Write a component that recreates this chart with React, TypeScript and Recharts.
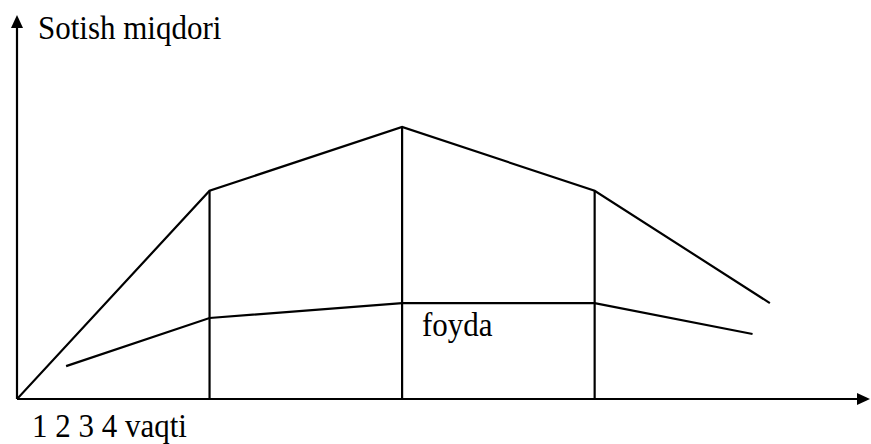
import { LineChart, Line, XAxis, YAxis, ReferenceLine } from 'recharts';

// time positions (1 unit = one period)
const salesX = [0, 1, 2, 3, 3.91];
const salesY = [0, 54.5, 71.2, 54.5, 25.1];
const profitX = [0.255, 1, 2, 3, 3.82];
const profitY = [8.6, 21.2, 25.1, 25.1, 17.0];
const dropAt = [1, 2, 3];
const xMax = 4.43;
const yMax = 100.5;

const sales = salesX.map((t, i) => ({ t, v: salesY[i] }));
const profit = profitX.map((t, i) => ({ t, v: profitY[i] }));

const Arrow = (props: any) => {
  const { x1, y1, x2, y2 } = props;
  const dx = x2 - x1;
  const dy = y2 - y1;
  const len = Math.sqrt(dx * dx + dy * dy) || 1;
  const ux = dx / len;
  const uy = dy / len;
  const bx = x2 - ux * 13;
  const by = y2 - uy * 13;
  const pts = `${x2},${y2} ${bx - uy * 6},${by + ux * 6} ${bx + uy * 6},${by - ux * 6}`;
  return (
    <g>
      <line x1={x1} y1={y1} x2={bx} y2={by} stroke="#000" strokeWidth={2.2} />
      <polygon points={pts} fill="#000" />
    </g>
  );
};

const textStyle = { fontFamily: '"Liberation Serif", "Times New Roman", serif', fontSize: 31 };

const Txt = ({ x, y, children }: { x: number; y: number; children: string }) => (
  <text x={0} y={0} transform={`translate(${x},${y}) scale(1,1.12)`} style={textStyle} fill="#000">
    {children}
  </text>
);

export default function App() {
  return (
    <div style={{ position: 'absolute', left: 0, top: 0, width: 871, height: 444, background: '#fff' }}>
      <LineChart width={871} height={444} margin={{ top: 15, right: 1, bottom: 45, left: 17 }}>
        <XAxis type="number" dataKey="t" domain={[0, xMax]} hide allowDataOverflow />
        <YAxis type="number" dataKey="v" domain={[0, yMax]} hide allowDataOverflow />
        {dropAt.map((t) => (
          <ReferenceLine
            key={t}
            segment={[{ x: t, y: 0 }, { x: t, y: salesY[salesX.indexOf(t)] }]}
            stroke="#000"
            strokeWidth={2.2}
            ifOverflow="visible"
          />
        ))}
        <Line data={sales} dataKey="v" type="linear" stroke="#000" strokeWidth={2.2} dot={false} isAnimationActive={false} />
        <Line data={profit} dataKey="v" type="linear" stroke="#000" strokeWidth={2.2} dot={false} isAnimationActive={false} />
        <ReferenceLine segment={[{ x: 0, y: 0 }, { x: xMax, y: 0 }]} ifOverflow="visible" shape={Arrow} />
        <ReferenceLine segment={[{ x: 0, y: 0 }, { x: 0, y: yMax }]} ifOverflow="visible" shape={Arrow} />
      </LineChart>
      <svg width={871} height={444} style={{ position: 'absolute', left: 0, top: 0, pointerEvents: 'none' }}>
        <Txt x={38} y={39}>Sotish miqdori</Txt>
        <Txt x={422} y={336}>foyda</Txt>
        <Txt x={32} y={437}>1 2 3 4 vaqti</Txt>
      </svg>
    </div>
  );
}
